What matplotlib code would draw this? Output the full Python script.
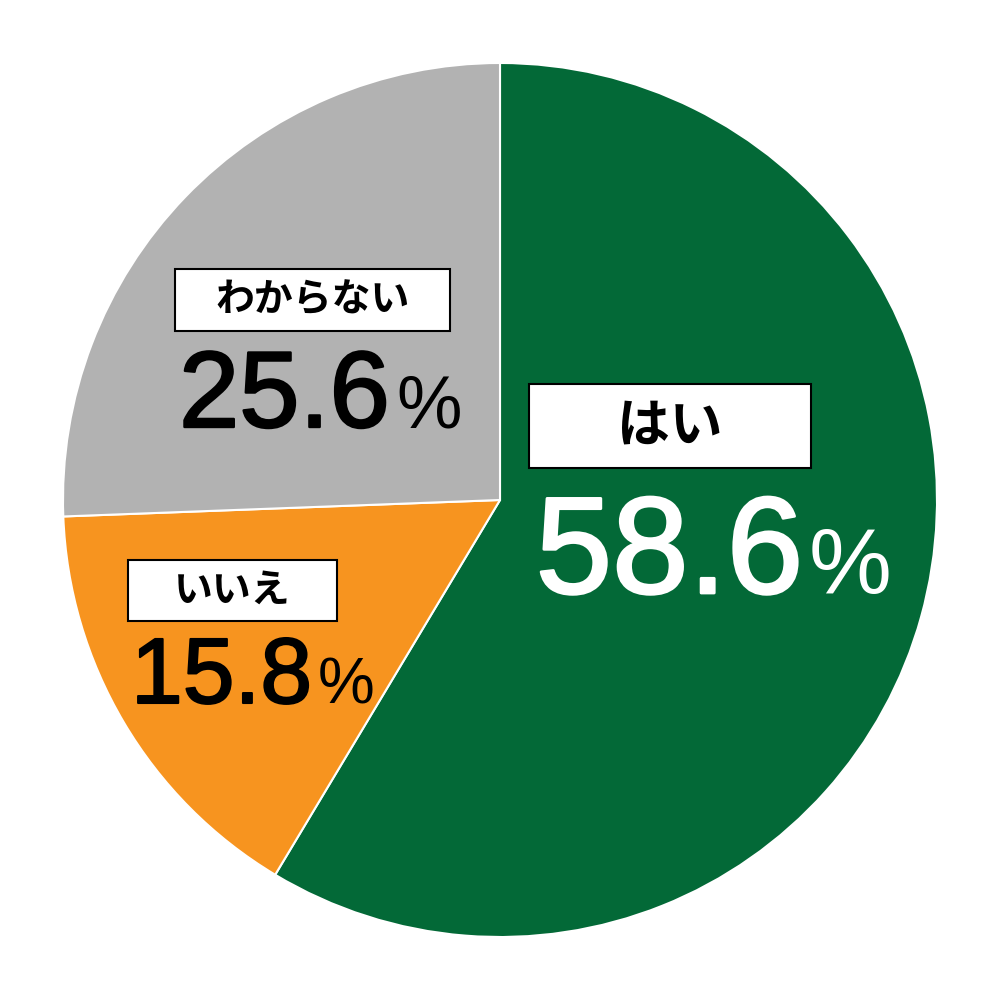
import matplotlib
matplotlib.use("Agg")
import matplotlib.pyplot as plt
from matplotlib.patches import Rectangle
import matplotlib.patheffects as pe

categories = ["はい", "いいえ", "わからない"]
values = [58.6, 15.8, 25.6]
colors = ["#036937", "#F7941F", "#B2B2B2"]

R = 437.0
def px(x, y):
    return (x - 500) / R, (500 - y) / R

fig = plt.figure(figsize=(10, 10), dpi=100)
ax = fig.add_axes([0, 0, 1, 1])

ax.pie(values, colors=colors, startangle=90, counterclock=False, radius=1.0,
       wedgeprops=dict(edgecolor="white", linewidth=1.5))
ax.set_xlim(-500 / R, 500 / R)
ax.set_ylim(-500 / R, 500 / R)
ax.set_aspect("equal")
ax.axis("off")

jp = ["Noto Sans CJK JP", "DejaVu Sans"]
num = ["Liberation Sans", "DejaVu Sans"]

# label boxes: (x0, y0, x1, y1) in px, label fontsize
boxes = [(529, 384, 811, 468, 38), (128, 560, 337, 621, 28), (175, 269, 450, 331, 28)]
# number placement: right edge of digits, baseline, digit size, pct size, color, stroke
nums = [(803, 593, 99, 67, "white", 2.0), (312, 703, 67, 46, "black", 1.5),
        (390, 427, 78, 53, "black", 1.7)]

for i, cat in enumerate(categories):
    x0, y0, x1, y1, fs = boxes[i]
    a0, b1 = px(x0, y1)
    a1, b0 = px(x1, y0)
    ax.add_patch(Rectangle((a0, b1), a1 - a0, b0 - b1, facecolor="white",
                           edgecolor="black", linewidth=1.5, zorder=3))
    cx, cy = px((x0 + x1) / 2, (y0 + y1) / 2)
    ax.text(cx, cy, cat, ha="center", va="center", fontsize=fs,
            fontweight="bold", family=jp, color="black", zorder=4)
    xr, yb, s1, s2, col, sw = nums[i]
    nx, ny = px(xr, yb)
    ax.text(nx, ny, f"{values[i]:.1f}", ha="right", va="baseline", fontsize=s1,
            family=num, color=col, zorder=4,
            path_effects=[pe.withStroke(linewidth=sw, foreground=col)])
    qx, _ = px(xr + 6, yb)
    ax.text(qx, ny, "%", ha="left", va="baseline", fontsize=s2,
            family=num, color=col, zorder=4)

fig.savefig("out.png", dpi=100, facecolor="white")
